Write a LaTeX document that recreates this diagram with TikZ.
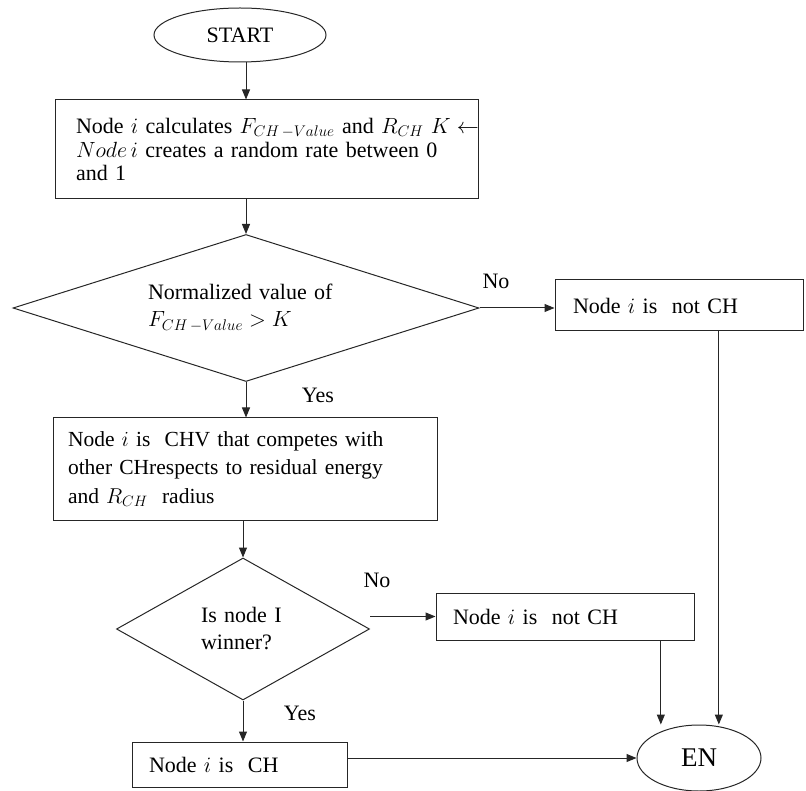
\RequirePackage{fix-cm}
\documentclass[tikz,border=0pt]{standalone}
\usepackage{fontspec}
\setmainfont{Liberation Serif}
\usetikzlibrary{shapes.geometric,arrows.meta,calc}

\begin{document}
\begin{tikzpicture}[x=1pt,y=-1pt,
  every node/.style={font=\fontsize{22}{27}\selectfont, inner sep=0pt},
  ln/.style={line width=1pt, draw=black!85},
  arr/.style={ln, -{Triangle[length=10pt,width=8pt]}},
  term/.style={ellipse, draw=black!85, line width=1pt},
  procbox/.style={rectangle, draw=black!85, line width=1pt, align=left},
  decision/.style={diamond, draw=black!85, line width=1pt, align=left},
  lbl/.style={inner sep=0pt}]

  % page frame
  \useasboundingbox (0,0) rectangle (806,791);

  % terminals
  \node[term, minimum width=172pt, minimum height=54pt] (start) at (240,35) {START};
  \node[term, minimum width=124pt, minimum height=66pt,
        font=\fontsize{27}{30}\selectfont] (en) at (699,758) {EN};

  % first process box
  \node[procbox, minimum width=423pt, minimum height=99pt, text width=381pt,
        inner xsep=21pt, font=\fontsize{22}{23.5}\selectfont] (b1) at (266.5,149.5)
    {\makebox[381pt][s]{Node $i$ calculates $F_{CH\,-Value}$ and $R_{CH}$ $K \leftarrow$}\\
     \makebox[381pt][s]{$Node\,i$ creates a random rate between 0}\\
     and 1};

  % first decision
  \node[decision, minimum width=466pt, minimum height=147pt, shape aspect=3.17,
        text width=196pt] (d1) at (246,308)
    {Normalized value of\\ $F_{CH\,-Value} > K$};

  \node[procbox, minimum width=248pt, minimum height=51pt, text width=212pt,
        inner xsep=18pt] (nc1) at (679,305.5) {Node $i$ is\ \ not CH};

  % second process box
  \node[procbox, minimum width=384pt, minimum height=102pt, text width=354pt,
        inner xsep=15pt, font=\fontsize{21.5}{28.5}\selectfont] (b2) at (245,469)
    {Node $i$ is\ \ CHV that competes with\\
     other CHrespects to residual energy\\
     and $R_{CH}$\ \ radius};

  % second decision
  \node[decision, minimum width=253pt, minimum height=142pt, shape aspect=1.78,
        text width=84pt] (d2) at (243,629)
    {Is node I\\ winner?};

  \node[procbox, minimum width=258pt, minimum height=47pt, text width=224pt,
        inner xsep=17pt] (nc2) at (565,616.5) {Node $i$ is\ \ not CH};

  \node[procbox, minimum width=215pt, minimum height=45pt, text width=181pt,
        inner xsep=17pt] (b3) at (239.5,764.5) {Node $i$ is\ \ CH};

  % branch labels
  \node[lbl] (no1) at (496,281) {No};
  \node[lbl] (yes1) at (318,395) {Yes};
  \node[lbl] (no2) at (377,580) {No};
  \node[lbl] (yes2) at (300,713) {Yes};

  % connectors
  \draw[arr] (start.south -| d1.north) -- (d1.north |- b1.north);
  \draw[arr] (d1.north |- b1.south) -- (d1.north);
  \draw[arr] (d1.east) -- (d1.east -| nc1.west);
  \draw[arr] (d1.south) -- (d1.south |- b2.north);
  \draw[arr] (b2.south -| d2.north) -- (d2.north);
  \draw[arr] (d2.east |- nc2.west) -- (nc2.west);
  \draw[arr] (d2.south) -- (d2.south |- b3.north);
  \draw[arr] (b3.east |- en.west) -- (en.west);
  \draw[arr] ($(nc1.south west)!0.66!(nc1.south east)$) coordinate (c1)
             -- (c1 |- en.north);
  \draw[arr] ($(nc2.south west)!0.87!(nc2.south east)$) coordinate (c2)
             -- (c2 |- en.north);
\end{tikzpicture}
\end{document}
